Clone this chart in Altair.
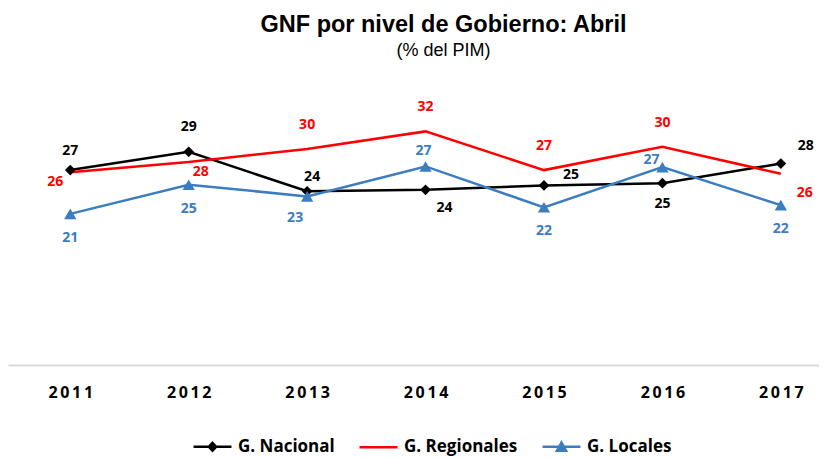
import altair as alt
import pandas as pd

# ---------------- data ----------------
years = [2011, 2012, 2013, 2014, 2015, 2016, 2017]
series_names = ["G. Nacional", "G. Regionales", "G. Locales"]
nacional = [26.7, 29.2, 23.8, 24.0, 24.6, 24.9, 27.6]
regionales = [26.4, 27.8, 29.6, 32.0, 26.7, 29.9, 26.2]
locales = [20.7, 24.7, 23.1, 27.2, 21.6, 27.1, 21.9]

# ---------------- styles ----------------
colors = ["#000000", "#FF0000", "#3B7DC1"]
FONT = "Open Sans"
TITLE_FONT = "Liberation Sans"

# label placement offsets in pixels (dx, dy) for each value label
nac_dx = [0, 0, 5, 19, 27, 0, 25]
nac_dy = [-19, -25, -14, 18, -10, 21, -18]
reg_dx = [-15, 12, 0, 0, 0, 0, 24]
reg_dy = [10, 10, -24, -24, -24, -24, 19]
loc_dx = [0, 0, -12, -2, 0, -11, 0]
loc_dy = [24, 24, 22, -15, 24, -7, 24]

# legend symbols: line with (solid looking) marker, custom SVG paths
legend_paths = [
    "M-3,0L3,0M0,-0.62L0.58,0L0,0.62L-0.58,0ZM0,-0.3L0.28,0L0,0.3L-0.28,0Z",
    "M-3,0L3,0",
    "M-3,0L3,0M0,-0.66L0.72,0.62L-0.72,0.62ZM0,-0.2L0.34,0.4L-0.34,0.4Z",
]

rows = []
for name, vals, dxs, dys in zip(
    series_names,
    [nacional, regionales, locales],
    [nac_dx, reg_dx, loc_dx],
    [nac_dy, reg_dy, loc_dy],
):
    for yr, v, dx, dy in zip(years, vals, dxs, dys):
        rows.append({"year": str(yr), "serie": name, "valor": v, "ldx": dx, "ldy": dy})
df = pd.DataFrame(rows)

x_enc = alt.X(
    "year:O",
    title=None,
    scale=alt.Scale(type="point", padding=0.424, align=0.62),
    axis=alt.Axis(
        domainColor="#D9D9D9",
        domainWidth=2,
        ticks=False,
        tickSize=0,
        grid=False,
        labelAngle=0,
        labelFont=FONT,
        labelFontSize=16,
        labelFontWeight="bold",
        labelColor="black",
        labelPadding=19,
        labelExpr="join(split(datum.label, ''), '\u2009')",
    ),
)
y_enc = alt.Y("valor:Q", scale=alt.Scale(domain=[0, 40]), axis=None)
color_scale = alt.Scale(domain=series_names, range=colors)

leg = alt.Legend(
    title=None,
    orient="none",
    legendX=196,
    legendY=365,
    direction="horizontal",
    labelFont=FONT,
    labelFontSize=17,
    labelFontWeight="bold",
    labelColor="black",
    symbolSize=160,
    symbolStrokeWidth=2.5,
    symbolOpacity=1,
    labelOffset=17,
    columnPadding=19,
    padding=0,
)

base = alt.Chart(df)

lines = base.mark_line(strokeWidth=2.5).encode(
    x=x_enc,
    y=y_enc,
    color=alt.Color("serie:N", scale=color_scale, legend=leg),
)

diamonds = (
    base.transform_filter(alt.datum.serie == "G. Nacional")
    .mark_point(shape="diamond", filled=True, size=115, color="#000000", opacity=1)
    .encode(x=x_enc, y=y_enc)
)

triangles = (
    base.transform_filter(alt.datum.serie == "G. Locales")
    .mark_point(shape="triangle-up", filled=True, size=150, color="#3B7DC1", opacity=1)
    .encode(x=x_enc, y=y_enc)
)

# value labels: one text layer per vertical offset
label_layers = []
for dy in sorted(set(nac_dy + reg_dy + loc_dy)):
    label_layers.append(
        base.transform_filter(alt.datum.ldy == dy)
        .mark_text(
            font=FONT, fontSize=14, fontWeight="bold", align="center",
            baseline="middle", dy=dy,
        )
        .encode(
            x=x_enc,
            y=y_enc,
            xOffset=alt.XOffset("ldx:Q", scale=None),
            text=alt.Text("valor:Q", format=".0f"),
            color=alt.Color("serie:N", scale=color_scale, legend=leg),
        )
    )

# invisible points that only carry the legend's line+marker symbols
legend_layer = base.mark_point(size=0, opacity=1).encode(
    x=x_enc,
    y=y_enc,
    color=alt.Color("serie:N", scale=color_scale, legend=leg),
    shape=alt.Shape("serie:N", scale=alt.Scale(domain=series_names, range=legend_paths), legend=leg),
)

chart = (
    alt.layer(lines, diamonds, triangles, *label_layers, legend_layer)
    .properties(
        width=811,
        height=292,
        padding={"left": 0, "right": 0, "top": 5, "bottom": 0},
        background="white",
        title=alt.TitleParams(
            text="GNF por nivel de Gobierno: Abril",
            subtitle="(% del PIM)",
            font=TITLE_FONT,
            fontSize=23.5,
            fontWeight="bold",
            color="black",
            subtitleFont=TITLE_FONT,
            subtitleFontSize=18,
            subtitleColor="black",
            subtitlePadding=5,
            anchor="middle",
            dx=30,
            offset=13.5,
        ),
    )
    .configure_view(strokeWidth=0)
)

chart.save("out.html", embed_options={"renderer": "svg", "actions": False})
